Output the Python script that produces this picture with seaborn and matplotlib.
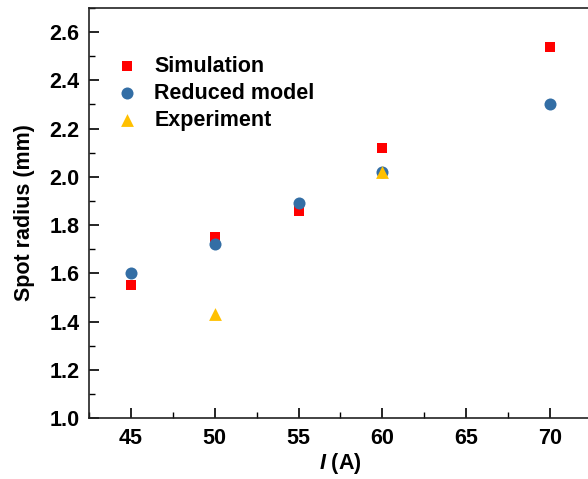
import pandas as pd
import matplotlib
matplotlib.use("Agg")
import matplotlib.pyplot as plt
import seaborn as sns
from matplotlib.ticker import MultipleLocator

# Data
sim_x = [45, 50, 55, 60, 70]
sim_y = [1.55, 1.75, 1.86, 2.12, 2.54]
red_x = [45, 50, 55, 60, 70]
red_y = [1.60, 1.72, 1.89, 2.02, 2.30]
exp_x = [50, 60]
exp_y = [1.43, 2.02]

sns.set_style("ticks")
plt.rcParams['font.family'] = ['Liberation Sans', 'DejaVu Sans']
plt.rcParams['font.weight'] = 'bold'
plt.rcParams['text.color'] = 'black'
plt.rcParams['axes.labelcolor'] = 'black'
plt.rcParams['xtick.color'] = 'black'
plt.rcParams['ytick.color'] = 'black'
plt.rcParams['axes.edgecolor'] = '#222222'
plt.rcParams['mathtext.fontset'] = 'custom'
plt.rcParams['mathtext.it'] = 'Liberation Sans:italic:bold'

fig = plt.figure(figsize=(5.88, 4.79), dpi=100)
ax = fig.add_axes([89/588, 1 - 418/479, (592 - 89)/588, (418 - 8)/479])

df_sim = pd.DataFrame({"x": sim_x, "y": sim_y})
df_red = pd.DataFrame({"x": red_x, "y": red_y})
df_exp = pd.DataFrame({"x": exp_x, "y": exp_y})

sns.scatterplot(data=df_sim, x="x", y="y", ax=ax, marker="s", color="#ff0000",
                s=55, linewidth=0, label="Simulation")
sns.scatterplot(data=df_red, x="x", y="y", ax=ax, marker="o", color="#336ea5",
                s=75, linewidth=0, label="Reduced model")
sns.scatterplot(data=df_exp, x="x", y="y", ax=ax, marker="^", color="#ffc000",
                s=85, linewidth=0, label="Experiment")

ax.set_xlim(42.5, 72.5)
ax.set_ylim(1.0, 2.7)
ax.xaxis.set_major_locator(MultipleLocator(5))
ax.xaxis.set_minor_locator(MultipleLocator(2.5))
ax.yaxis.set_major_locator(MultipleLocator(0.2))
ax.yaxis.set_minor_locator(MultipleLocator(0.1))
ax.tick_params(which='major', direction='in', length=7, width=1.2, labelsize=15.5, pad=7)
ax.tick_params(which='minor', direction='in', length=4, width=1.0)
for lab in ax.get_xticklabels() + ax.get_yticklabels():
    lab.set_fontweight('bold')
for sp in ax.spines.values():
    sp.set_linewidth(1.2)
    sp.set_visible(True)

ax.set_xlabel(r"$\mathit{I}$ (A)", fontsize=15.5, fontweight='bold', labelpad=2)
ax.set_ylabel("Spot radius (mm)", fontsize=15.5, fontweight='bold', labelpad=10)

leg = ax.legend(loc='upper left', bbox_to_anchor=(-0.006, 0.93), frameon=False,
                handletextpad=0.28, labelspacing=0.28,
                prop={'weight': 'bold', 'size': 15.5})

fig.savefig("out.png", dpi=100)
